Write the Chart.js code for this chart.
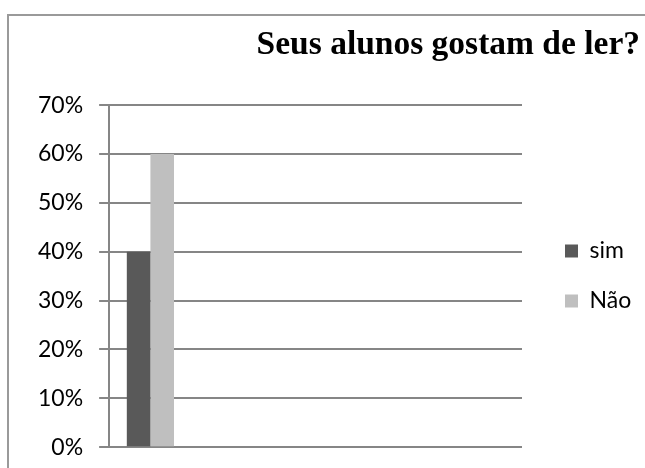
<!DOCTYPE html>
<html>
<head>
<meta charset="utf-8">
<script src="https://cdn.jsdelivr.net/npm/chart.js@4.4.1/dist/chart.umd.min.js"></script>
<style>
  html, body { margin: 0; padding: 0; background: #fff; overflow: hidden; }
  #frame { position: absolute; left: 7px; top: 14px; width: 700px; height: 500px; border: 2px solid #9a9a9a; }
  #grafico { position: absolute; left: 0; top: 0; }
</style>
</head>
<body>
<div id="frame">
  <canvas id="grafico" width="640" height="461"></canvas>
</div>
<script>
// uma categoria com resposta, as outras ficam vazias
let categorias = ['', '', '', '', '']
let sim = [0.4, null, null, null, null]
let nao = [0.6, null, null, null, null]
let escala = [0, 0.1, 0.2, 0.3, 0.4, 0.5, 0.6, 0.7]

let cinza = '#868686'

const ctx = document.getElementById('grafico').getContext('2d')
new Chart(ctx, {
    type: 'bar',
    data: {
        labels: categorias,
        datasets: [
            { label: 'sim', data: sim, backgroundColor: '#595959', borderWidth: 0 },
            { label: 'Não', data: nao, backgroundColor: '#bfbfbf', borderWidth: 0 }
        ]
    },
    options: {
        responsive: false,
        animation: false,
        categoryPercentage: 2 / 3.5,
        barPercentage: 1,
        layout: { padding: { left: 13, right: 9, top: 9, bottom: 12 } },
        plugins: {
            title: {
                display: true,
                text: 'Seus alunos gostam de ler?',
                align: 'end',
                color: '#000',
                font: { family: 'Liberation Serif', size: 33.5, weight: 'bold' },
                padding: { top: 0, bottom: 40 }
            },
            legend: {
                position: 'right',
                maxWidth: 102,
                // título vazio só para descer os itens da legenda
                title: { display: true, text: '', font: { size: 10, lineHeight: 1 }, padding: { top: 52, bottom: 0 } },
                labels: {
                    color: '#000',
                    boxWidth: 13,
                    boxHeight: 13,
                    padding: 27,
                    font: { family: 'Lato', size: 23 }
                }
            },
            tooltip: { enabled: false }
        },
        scales: {
            x: { display: false },
            y: {
                min: 0,
                max: 0.7,
                afterBuildTicks: (s) => { s.ticks = escala.map(v => ({ value: v })) },
                ticks: {
                    color: '#000',
                    padding: 16,
                    font: { family: 'Lato', size: 23 },
                    callback: (v) => Math.round(v * 100) + '%'
                },
                grid: { color: cinza, lineWidth: 2, tickLength: 10 },
                border: { display: true, color: cinza, width: 2 }
            },
            folga: { // espaço entre o gráfico e a legenda
                type: 'linear',
                position: 'right',
                ticks: { display: false },
                grid: { display: false, drawTicks: false },
                border: { display: false },
                afterFit: (s) => { s.width = 16 }
            }
        }
    }
})
</script>
</body>
</html>
